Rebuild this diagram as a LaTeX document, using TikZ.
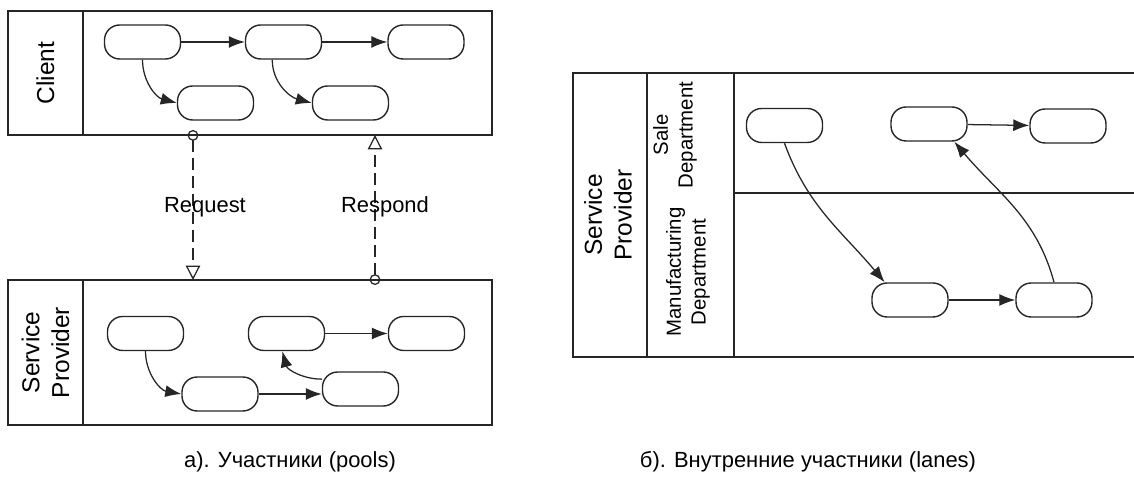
\documentclass[tikz,border=0pt]{standalone}
\usepackage{fontspec}
\setmainfont{Liberation Sans}
\usetikzlibrary{arrows.meta}

\begin{document}
\begin{tikzpicture}[x=0.025cm, y=0.025cm,
    font=\fontsize{15.6}{18.7}\selectfont,
    attivita/.style={draw=black!85, line width=1pt, rounded corners=0.38cm,
        minimum width=1.9cm, minimum height=0.85cm, inner sep=0pt},
    flusso/.style={draw=black!85, line width=0.9pt, -{Latex[length=0.4cm, width=0.3cm]}},
    messaggio/.style={draw=black!85, line width=0.9pt, dash pattern=on 0.3cm off 0.15cm,
        {Circle[open, length=0.27cm, width=0.27cm]}-{Triangle[open, length=0.36cm, width=0.36cm]}},
    vasca/.style={draw=black!85, line width=1.2pt},
    intestazione/.style={rotate=90, align=center, font=\fontsize{17.4}{21}\selectfont},
    corsia/.style={rotate=90, align=center, font=\fontsize{14.5}{17.7}\selectfont}]
    \useasboundingbox (0,0) rectangle (1134,484);

    % a) Pool del cliente
    \draw[vasca] (8,349) rectangle (492,473);
    \draw[vasca] (83,349) -- (83,473);
    \node[intestazione] (client) at (45.5,411) {Client};
    \node[attivita] (c1) at (142.5,442) {};
    \node[attivita] (c2) at (283.5,442) {};
    \node[attivita] (c3) at (426,442) {};
    \node[attivita] (c4) at (215.5,381) {};
    \node[attivita] (c5) at (350.5,381) {};
    \draw[flusso] (c1) -- (c2);
    \draw[flusso] (c2) -- (c3);
    \draw[flusso] (c1.south) to[out=-90, in=165] (c4.west);
    \draw[flusso] ([xshift=-8]c2.south) to[out=-90, in=165] (c5.west);

    % a) Pool del fornitore
    \draw[vasca] (8,59) rectangle (492,204);
    \draw[vasca] (83,59) -- (83,204);
    \node[intestazione] (fornitore) at (45.5,131.5) {Service\\Provider};
    \node[attivita] (p1) at (145.5,150.5) {};
    \node[attivita] (p2) at (286.5,150.5) {};
    \node[attivita] (p3) at (426.5,150.5) {};
    \node[attivita] (p4) at (220,90) {};
    \node[attivita] (p5) at (360.5,95) {};
    \draw[flusso] (p1.south) to[out=-90, in=170] (p4.west);
    \draw[flusso] (p4.east) -- (p4.east -| p5.west);
    \draw[flusso] ([yshift=7]p5.west) to[out=180, in=-75] ([xshift=-3]p2.south);
    \draw[flusso] (p2) -- (p3);

    % Messaggi tra i due pool
    \coordinate (req1) at (193,354);
    \coordinate (req2) at (193,204);
    \coordinate (resp1) at (375,199);
    \coordinate (resp2) at (375,349);
    \draw[messaggio] (req1) -- (req2);
    \draw[messaggio] (resp1) -- (resp2);
    \node (request) at (205,277) {Request};
    \node (respond) at (385,277) {Respond};

    % b) Pool con due corsie
    \draw[vasca] (1134,411) -- (573,411) -- (573,127) -- (1134,127);
    \draw[vasca] (647,127) -- (647,411);
    \draw[vasca] (734,127) -- (734,411);
    \draw[vasca] (734,291) -- (1134,291);
    \node[intestazione] (fornitoreb) at (608,269) {Service\\Provider};
    \node[corsia] (vendite) at (675,349) {Sale\\Department};
    \node[corsia] (produzione) at (688,212) {Manufacturing\\Department};
    \node[attivita] (s1) at (784.5,358.5) {};
    \node[attivita] (s2) at (929,360) {};
    \node[attivita] (s3) at (1068,358) {};
    \node[attivita] (m1) at (910,184) {};
    \node[attivita] (m2) at (1054,184) {};
    \draw[flusso] (s2) -- (s3);
    \draw[flusso] (m1) -- (m2);
    \draw[flusso] (s1.south) to[out=-70, in=130] ([xshift=-18]m1.north);
    \draw[flusso] (m2.north) to[out=105, in=-50] ([xshift=18]s2.south);

    % Didascalie
    \node (didascaliaa) at (290,22) {а). Участники (pools)};
    \node (didascaliab) at (808,22) {б). Внутренние участники (lanes)};
\end{tikzpicture}
\end{document}
